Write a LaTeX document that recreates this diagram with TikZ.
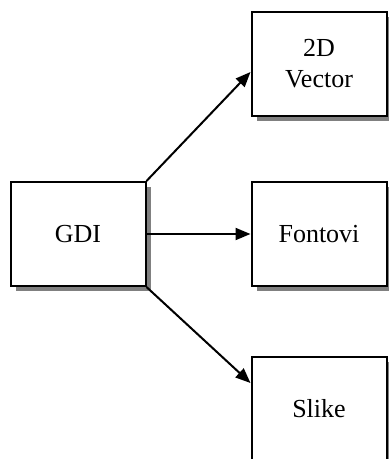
\documentclass[tikz,border=0pt]{standalone}
\usepackage{fontspec}
\setmainfont{Liberation Serif}
\usetikzlibrary{arrows.meta,shadows}

\begin{document}
\begin{tikzpicture}[x=1pt,y=1pt,
   box/.style={draw,line width=2pt,fill=white,minimum width=135pt,minimum height=104pt,
      align=center,font=\fontsize{26}{31}\selectfont,
      drop shadow={shadow xshift=5pt,shadow yshift=-5pt,fill=gray,opacity=1}},
   link/.style={line width=2pt,-{Triangle[length=15pt,width=12pt]}}]
\useasboundingbox (0,0) rectangle (389,-459);
\node[box] (gdi) at (78,-234) {GDI};
\node[box] (vec) at (319,-64) {2D\\Vector};
\node[box] (fon) at (319,-234) {Fontovi};
\node[box] (sli) at (319,-409) {Slike};
\draw[link] (gdi.north east) -- ([yshift=-61pt]vec.north west);
\draw[link] (gdi.east) -- (fon.west);
\draw[link] (gdi.south east) -- ([yshift=-27pt]sli.north west);
\end{tikzpicture}
\end{document}
